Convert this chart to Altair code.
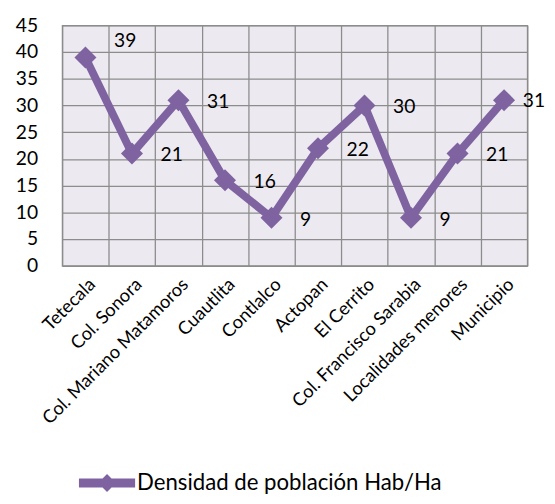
import altair as alt
import pandas as pd

categories = ["Tetecala", "Col. Sonora", "Col. Mariano Matamoros", "Cuautlita", "Contlalco",
              "Actopan", "El Cerrito", "Col. Francisco Sarabia", "Localidades menores", "Municipio"]
values = [39, 21, 31, 16, 9, 22, 30, 9, 21, 31]
series_name = "Densidad de población Hab/Ha"

df = pd.DataFrame({"cat": categories, "val": values, "serie": [series_name] * len(values),
                   "idx": list(range(len(values)))})

PURPLE = "#7F63A1"
FONT = "Lato"

x = alt.X("cat:N", sort=categories, title=None,
          scale=alt.Scale(paddingInner=0, paddingOuter=0),
          axis=alt.Axis(labelAngle=-45, labelFontSize=18.5, labelColor="#000", tickBand="extent",
                        domain=False, ticks=False, labelPadding=9, grid=True, labelLimit=0,
                        gridColor="#8c8c8c", gridWidth=1.3))
y = alt.Y("val:Q", title=None,
          scale=alt.Scale(domain=[0, 45], nice=False),
          axis=alt.Axis(values=list(range(0, 46, 5)), labelFontSize=19.5, labelColor="#000",
                        domain=False, ticks=False, labelPadding=25, grid=True,
                        gridColor="#8c8c8c", gridWidth=1.3))

base = alt.Chart(df)

line = base.mark_line(color=PURPLE, strokeWidth=8).encode(x=x, y=y)

points = base.mark_point(shape="diamond", filled=True, size=500, opacity=1).encode(
    x=x, y=y,
    color=alt.Color("serie:N", scale=alt.Scale(range=[PURPLE]),
                    legend=alt.Legend(title=None, orient="none", legendX=17, legendY=436,
                                      symbolType="M-1,-0.16L1,-0.16L1,0.16L-1,0.16Z M-0.32,0L0,-0.32L0.32,0L0,0.32Z",
                                      symbolSize=3249, symbolStrokeWidth=0, labelFontSize=22.5,
                                      labelColor="#000", labelFont=FONT, labelOffset=2,
                                      labelLimit=0, symbolOpacity=1))
)

lab_mid = base.transform_filter("datum.idx > 0 && datum.idx < 9").mark_text(
    align="left", baseline="middle", dx=29, dy=2, fontSize=19.5, color="#000", font=FONT
).encode(x=x, y=y, text="val:Q")
lab_first = base.transform_filter("datum.idx == 0").mark_text(
    align="left", baseline="middle", dx=29, dy=-17, fontSize=19.5, color="#000", font=FONT
).encode(x=x, y=y, text="val:Q")
lab_last = base.transform_filter("datum.idx == 9").mark_text(
    align="left", baseline="middle", dx=19, dy=1, fontSize=19.5, color="#000", font=FONT
).encode(x=x, y=y, text="val:Q")

chart = alt.layer(line, points, lab_mid, lab_first, lab_last).properties(
    width=472, height=244,
    autosize=alt.AutoSizeParams(type="none"),
    padding={"left": 55, "top": 14, "right": 20, "bottom": 230},
    background="white",
).configure_view(
    fill="#ECEAF0", stroke="#8c8c8c", strokeWidth=1.3
).configure_axis(
    labelFont=FONT
)

chart.save("out.html", embed_options={"renderer": "svg", "actions": False})
